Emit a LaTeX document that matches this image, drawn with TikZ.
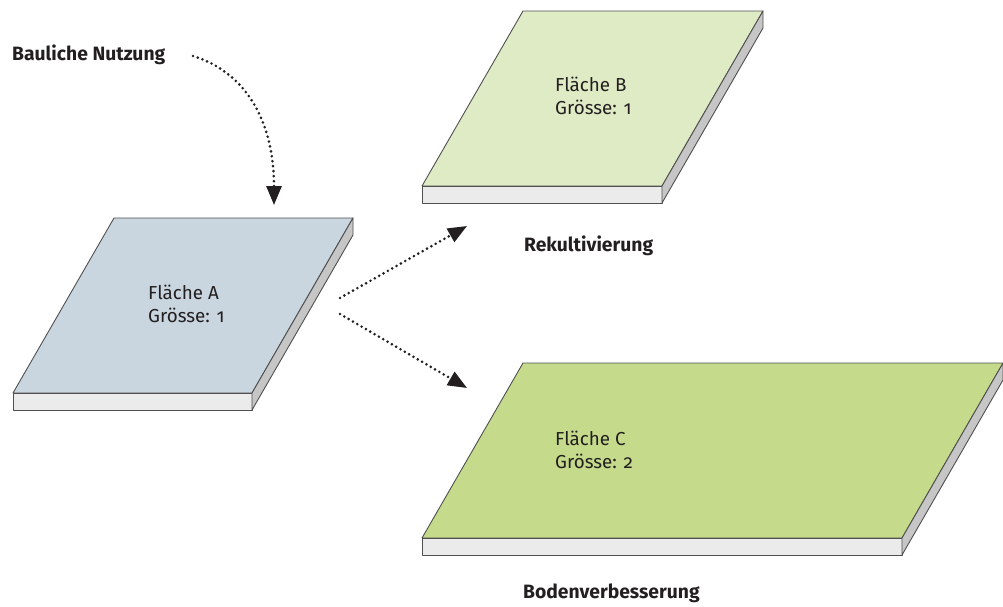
\documentclass[tikz,border=0pt]{standalone}
\usepackage{fontspec}
\setmainfont{Fira Sans}[Numbers=OldStyle]
\usetikzlibrary{arrows.meta}
\definecolor{ca}{HTML}{C9D6DF}
\definecolor{cb}{HTML}{DFEBC5}
\definecolor{cc}{HTML}{C5DB8B}
\definecolor{front}{HTML}{EBEBEB}
\definecolor{sidec}{HTML}{C6C6C6}
\definecolor{edgec}{HTML}{505050}
\definecolor{ink}{HTML}{231F20}
\tikzset{
  slabedge/.style={draw=edgec, line width=0.9pt, line join=round},
  lbl/.style={font=\bfseries\fontsize{19.3}{22}\selectfont, text=ink, anchor=base west, inner sep=0pt},
  flab/.style={font=\fontsize{18.8}{23}\selectfont, text=ink, align=left, anchor=base west, inner sep=0pt},
  dotarrow/.style={draw=ink, line width=2.9pt, dash pattern=on 0pt off 5pt, line cap=round,
    -{Triangle[length=19pt,width=15pt]}}
}
% #1 x, #2 y of lower-left corner of the top face, #3 width, #4 fill colour
\newcommand\drawslab[4]{%
  \path[slabedge, fill=#4] (#1,#2) -- ++(101,-175) -- ++(#3,0) -- ++(-101,175) -- cycle;
  \path[slabedge, fill=front] (#1,#2) rectangle ++(#3,17);
  \path[slabedge, fill=sidec] ({#1+#3},#2) -- ++(101,-175) -- ++(0,17) -- ++(-101,175) -- cycle;
}
\begin{document}
\begin{tikzpicture}[x=1pt,y=-1pt]
\useasboundingbox (0,0) rectangle (1003,606);
\drawslab{13}{393}{239}{ca}
\drawslab{422}{186}{240}{cb}
\drawslab{422}{538}{480}{cc}

\node[flab] (ta) at (148,322) {Fläche A\\Grösse: 1};
\node[flab] (tb) at (555,114) {Fläche B\\Grösse: 1};
\node[flab] (tc) at (555,468) {Fläche C\\Grösse: 2};

\node[lbl] (bn) at (12,60) {Bauliche Nutzung};
\node[lbl] (rk) at (524,251) {Rekultivierung};
\node[lbl] (bv) at (523,598) {Bodenverbesserung};

\coordinate (s1) at (193,56);
\coordinate (e1) at (274,205);
\coordinate (s2) at (340,298);
\coordinate (e2) at (467,226);
\coordinate (s3) at (340,314);
\coordinate (e3) at (467,388);

\draw[dotarrow] (s1) .. controls (245,72) and (274,120) .. (e1);
\draw[dotarrow] (s2) -- (e2);
\draw[dotarrow] (s3) -- (e3);
\end{tikzpicture}
\end{document}
